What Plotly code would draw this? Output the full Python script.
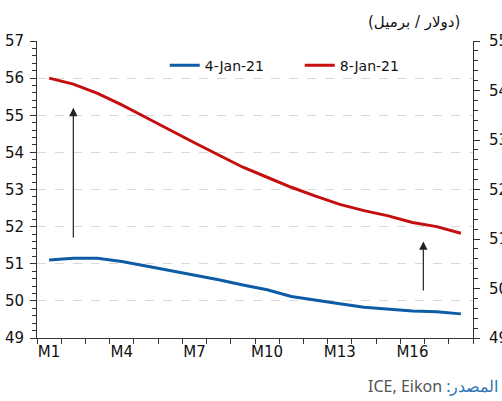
import plotly.graph_objects as go

months = [f"M{i}" for i in range(1, 19)]
jan4 = [51.10, 51.15, 51.15, 51.06, 50.94, 50.82, 50.70, 50.57, 50.43, 50.30,
        50.12, 50.01, 49.92, 49.83, 49.78, 49.73, 49.71, 49.65]
jan8 = [56.00, 55.84, 55.59, 55.28, 54.94, 54.59, 54.26, 53.93, 53.60, 53.33,
        53.06, 52.82, 52.60, 52.43, 52.29, 52.11, 52.00, 51.82]
series_names = ["4-Jan-21", "8-Jan-21"]
shown_labels = ["M1", "M4", "M7", "M10", "M13", "M16"]
# arrows: (x position in month units, tail value, tip value)
arrow_x = [2.0, 16.45]
arrow_tail = [51.67, 50.24]
arrow_tip = [55.20, 51.60]
title_text = "(دولار / برميل)"
source_label = ":المصدر"
source_text = "ICE, Eikon "

xpos = list(range(1, len(months) + 1))
tickpos = [xpos[months.index(m)] for m in shown_labels]
boundaries = [p - 0.5 for p in xpos] + [len(months) + 0.5]

fig = go.Figure()
fig.add_trace(go.Scatter(x=xpos, y=jan4, mode="lines", name=series_names[0],
                         line=dict(color="#0F5CA6", width=3)))
fig.add_trace(go.Scatter(x=xpos, y=jan8, mode="lines", name=series_names[1],
                         line=dict(color="#C50F0F", width=3)))
# empty trace so the secondary axes are drawn
fig.add_trace(go.Scatter(x=[None], y=[None], xaxis="x2", yaxis="y2",
                         showlegend=False, hoverinfo="skip"))

annotations = []
for xa, t0, t1 in zip(arrow_x, arrow_tail, arrow_tip):
    annotations.append(dict(x=xa, y=t1, ax=xa, ay=t0, xref="x", yref="y",
                            axref="x", ayref="y", text="", showarrow=True,
                            arrowhead=2, arrowsize=1.4, arrowwidth=1.2,
                            arrowcolor="#222222", standoff=0, startstandoff=0))
annotations.append(dict(x=0.975, y=1.064, xref="paper", yref="paper",
                        xanchor="right", yanchor="middle", showarrow=False,
                        text=title_text,
                        font=dict(family="DejaVu Sans", size=15, color="#111111")))
annotations.append(dict(x=1.062, y=-0.162, xref="paper", yref="paper",
                        xanchor="right", yanchor="middle", showarrow=False,
                        text=f"<span style='color:#555555'>{source_text}</span>"
                             f"<span style='color:#2E74B5'>{source_label}</span>",
                        font=dict(family="Noto Sans", size=16)))

axis_col = "#333333"
fig.update_layout(
    width=502, height=401,
    margin=dict(l=37, r=29, t=41, b=63, autoexpand=False),
    paper_bgcolor="white", plot_bgcolor="white",
    font=dict(family="DejaVu Sans", size=15, color="#111111"),
    showlegend=True,
    legend=dict(orientation="h", x=0.293, y=0.917, xanchor="left", yanchor="middle",
                font=dict(family="DejaVu Sans", size=14, color="#111111"),
                bgcolor="rgba(0,0,0,0)", entrywidth=90, entrywidthmode="pixels"),
    annotations=annotations,
    xaxis=dict(range=[0.5, len(months) + 0.5], tickmode="array", tickvals=tickpos,
               ticktext=shown_labels, ticks="", showgrid=False, zeroline=False,
               showline=True, linecolor=axis_col, linewidth=1, tickfont=dict(size=15)),
    xaxis2=dict(range=[0.5, len(months) + 0.5], overlaying="x", side="bottom",
                anchor="y", tickmode="array", tickvals=boundaries, ticks="outside",
                ticklen=5, tickcolor=axis_col, showticklabels=False, showgrid=False,
                zeroline=False, showline=False),
    yaxis=dict(range=[49, 57], tickmode="linear", tick0=49, dtick=1, ticks="outside",
               ticklen=6, tickcolor=axis_col,
               showline=True, linecolor=axis_col, linewidth=1, zeroline=False,
               showgrid=True, gridcolor="#D9D9D9", griddash="dash", gridwidth=1,
               minor=dict(tickmode="linear", tick0=49, dtick=0.2, ticks="outside",
                          ticklen=4, tickcolor=axis_col, showgrid=False),
               ticklabelstandoff=3, tickfont=dict(size=15)),
    yaxis2=dict(range=[49, 55], tickmode="linear", tick0=49, dtick=1, overlaying="y",
                side="right", anchor="x", ticks="outside", ticklen=6, tickcolor=axis_col,
                showline=True, linecolor=axis_col, linewidth=1, zeroline=False,
                showgrid=False,
                minor=dict(tickmode="linear", tick0=49, dtick=0.2, ticks="outside",
                           ticklen=4, tickcolor=axis_col, showgrid=False),
                ticklabelstandoff=6, tickfont=dict(size=15)),
)
fig.write_html("out.html", config={"displayModeBar": False},
               post_script="document.body.style.margin='0';")
